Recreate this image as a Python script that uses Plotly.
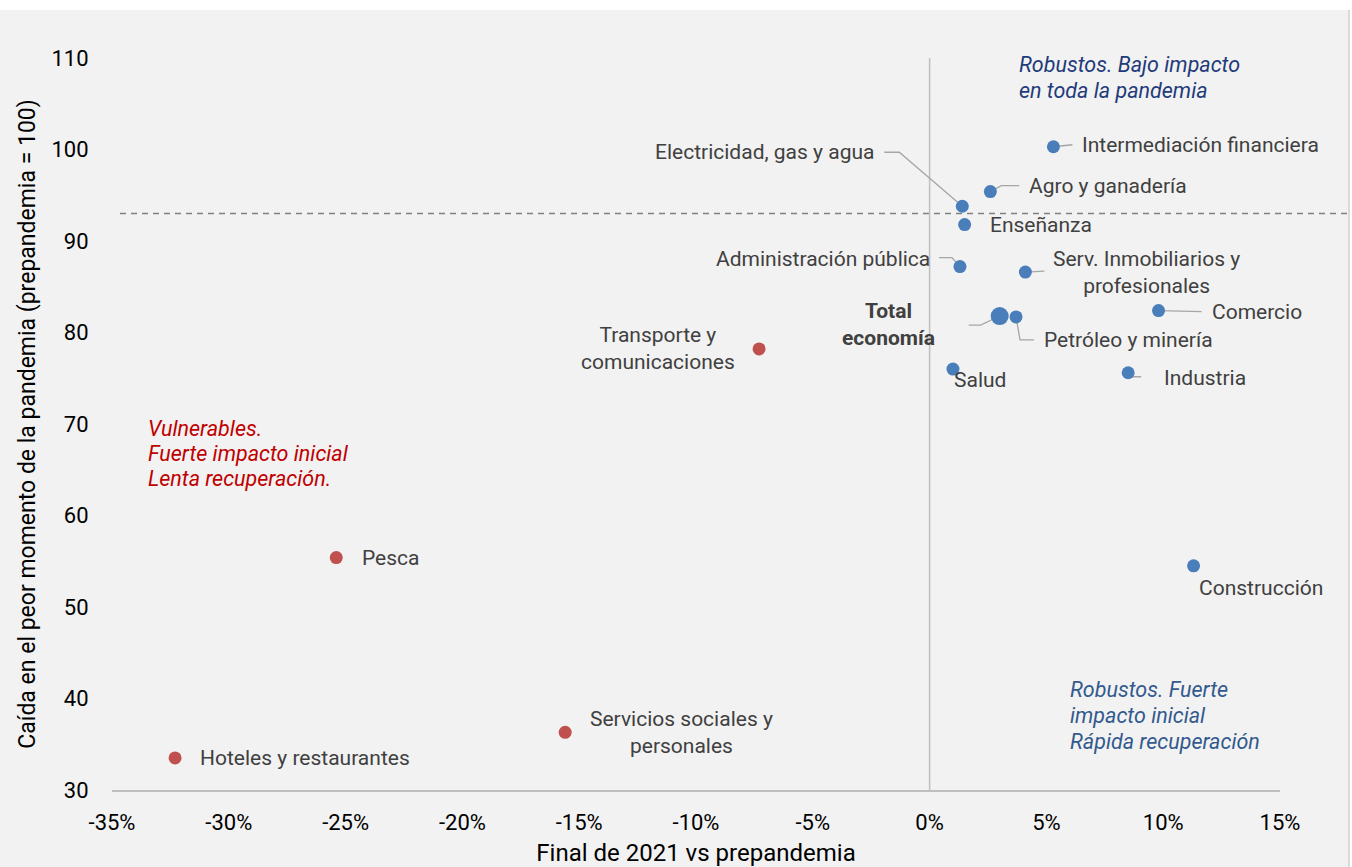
import plotly.graph_objects as go

# ---------------- data ----------------
sectors = ["Hoteles y restaurantes", "Pesca", "Servicios sociales y<br>personales",
           "Transporte y<br>comunicaciones", "Electricidad, gas y agua", "Agro y ganadería",
           "Intermediación financiera", "Enseñanza", "Administración pública",
           "Serv. Inmobiliarios y<br>profesionales", "Total<br>economía", "Petróleo y minería",
           "Comercio", "Industria", "Salud", "Construcción"]
x_change = [-32.3, -25.4, -15.6, -7.3, 1.4, 2.6, 5.3, 1.5, 1.3, 4.1, 3.0, 3.7, 9.8, 8.5, 1.0, 11.3]
y_trough = [33.5, 55.4, 36.3, 78.2, 93.8, 95.4, 100.3, 91.8, 87.2, 86.6, 81.8, 81.7, 82.4, 75.6, 76.0, 54.5]
group = ["vul", "vul", "vul", "vul", "rob", "rob", "rob", "rob", "rob", "rob", "tot", "rob",
         "rob", "rob", "rob", "rob"]
threshold = 93
x_ticks = [-35, -30, -25, -20, -15, -10, -5, 0, 5, 10, 15]
x_ticktext = ["-35%", "-30%", "-25%", "-20%", "-15%", "-10%", "-5%", "0%", "5%", "10%", "15%"]
y_ticks = [30, 40, 50, 60, 70, 80, 90, 100, 110]

quad_robust_low = ["Robustos. Bajo impacto", "en toda la pandemia"]
quad_vulnerable = ["Vulnerables.", "Fuerte impacto inicial", "Lenta recuperación."]
quad_robust_high = ["Robustos. Fuerte", "impacto inicial", "Rápida recuperación"]

# ---------------- layout constants ----------------
W, H = 1352, 867
ML, MR, MT, MB = 112, 72, 58, 77
PW, PH = W - ML - MR, H - MT - MB
XR, YR = [-35, 15], [30, 110]
pxx = PW / (XR[1] - XR[0])
pxy = PH / (YR[1] - YR[0])

RED, BLUE = "#C0504D", "#4A7EBB"
TXT = "#404040"
FONT = "Roboto"
LBL = 21
QFS = 21.5

# label placement: (dx, dy) pixel offset, xanchor, leader path in pixel offsets (y down)
label_style = {
    "Hoteles y restaurantes": (23, 0, "left", None),
    "Pesca": (24, 0, "left", None),
    "Servicios sociales y<br>personales": (116, 0, "center", None),
    "Transporte y<br>comunicaciones": (-101, 0, "center", None),
    "Electricidad, gas y agua": (-86, -54, "right", [(0, 0), (-63, -54), (-78, -54)]),
    "Agro y ganadería": (37, -6, "left", [(0, 0), (11, -6), (29, -6)]),
    "Intermediación financiera": (27, -2, "left", [(0, 0), (19, -2)]),
    "Enseñanza": (23, 0, "left", None),
    "Administración pública": (-28, -8, "right", [(-21, -9), (-8, -9), (-1, -1)]),
    "Serv. Inmobiliarios y<br>profesionales": (26, 0, "left", [(0, 0), (19, -1)]),
    "Total<br>economía": (-63, 8, "right", [(-31, 9), (-19, 9), (0, 0)]),
    "Petróleo y minería": (26, 23, "left", [(0, 0), (4, 23), (18, 23)]),
    "Comercio": (51, 1, "left", [(0, 0), (43, 1)]),
    "Industria": (34, 5, "left", [(0, 0), (2, 4), (13, 4)]),
    "Salud": (-1, 11, "left", None),
    "Construcción": (3, 22, "left", None),
}

fig = go.Figure()

# leader lines (derived from data points + pixel offsets)
lx, ly = [], []
for s, xv, yv in zip(sectors, x_change, y_trough):
    path = label_style[s][3]
    if path:
        for dx, dy in path:
            lx.append(xv + dx / pxx)
            ly.append(yv - dy / pxy)
        lx.append(None)
        ly.append(None)
fig.add_trace(go.Scatter(x=lx, y=ly, mode="lines", line=dict(color="#A6A6A6", width=1.3),
                         hoverinfo="skip", showlegend=False))

for g, col, size in [("vul", RED, 13), ("rob", BLUE, 13), ("tot", BLUE, 18)]:
    xs = [x for x, gg in zip(x_change, group) if gg == g]
    ys = [y for y, gg in zip(y_trough, group) if gg == g]
    fig.add_trace(go.Scatter(x=xs, y=ys, mode="markers",
                             marker=dict(color=col, size=size, line=dict(width=0)),
                             showlegend=False))

annotations = []
for s, xv, yv in zip(sectors, x_change, y_trough):
    dx, dy, anchor, _ = label_style[s]
    text = "<b>%s</b>" % s if s.startswith("Total") else s
    annotations.append(dict(x=xv, y=yv, xref="x", yref="y", text=text, showarrow=False,
                            xshift=dx, yshift=-dy, xanchor=anchor, yanchor="middle",
                            align="center", font=dict(family=FONT, size=LBL, color=TXT)))


def quad_block(lines, x, y, color, spacing):
    n = len(lines)
    out = []
    for i, t in enumerate(lines):
        off = (i - (n - 1) / 2) * spacing
        out.append(dict(x=x, y=y, xref="x", yref="y", showarrow=False, xanchor="left",
                        yanchor="middle", align="left", text="<i>%s</i>" % t, yshift=-off,
                        font=dict(family=FONT, size=QFS, color=color)))
    return out


annotations += quad_block(quad_robust_low, 3.75, 107.9, "#1F3B7A", 26)
annotations += quad_block(quad_vulnerable, -33.55, 66.8, "#C00000", 25)
annotations += quad_block(quad_robust_high, 5.92, 38.1, "#335A8E", 26)

shapes = [
    # grey chart-area background
    dict(type="rect", xref="paper", yref="paper", layer="below",
         x0=-ML / PW, x1=(1349 - ML) / PW, y0=-MB / PH, y1=(H - MB - 10) / PH,
         fillcolor="#F2F2F2", line=dict(width=0)),
    dict(type="line", xref="paper", yref="paper", layer="below",
         x0=(1349 - ML) / PW, x1=(1349 - ML) / PW, y0=-MB / PH, y1=(H - MB - 10) / PH,
         line=dict(color="#D0D0D0", width=1.5)),
    # vertical zero line
    dict(type="line", xref="x", yref="y", x0=0, x1=0, y0=YR[0], y1=YR[1], layer="below",
         line=dict(color="#BFBFBF", width=1.5)),
    # dashed threshold
    dict(type="line", xref="paper", yref="y", x0=8 / PW, x1=(1348 - ML) / PW,
         y0=threshold, y1=threshold, layer="below",
         line=dict(color="#808080", width=1.5, dash="6px,5px")),
]

fig.update_layout(
    width=W, height=H,
    margin=dict(l=ML, r=MR, t=MT, b=MB, autoexpand=False),
    paper_bgcolor="white", plot_bgcolor="rgba(0,0,0,0)",
    font=dict(family=FONT, color="#000000"),
    showlegend=False,
    annotations=annotations, shapes=shapes,
    xaxis=dict(range=XR, tickvals=x_ticks, ticktext=x_ticktext, showgrid=False, zeroline=False,
               showline=True, linecolor="#BFBFBF", linewidth=2,
               ticks="outside", ticklen=12, tickcolor="rgba(0,0,0,0)",
               tickfont=dict(family=FONT, size=22, color="#000000"),
               title=dict(text="Final de 2021 vs prepandemia", standoff=11,
                          font=dict(family=FONT, size=24, color="#000000"))),
    yaxis=dict(range=YR, tickvals=y_ticks, showgrid=False, zeroline=False, showline=False,
               ticks="outside", ticklen=18, tickcolor="rgba(0,0,0,0)",
               tickfont=dict(family=FONT, size=22, color="#000000"),
               title=dict(text="Caída en el peor momento de la pandemia (prepandemia = 100)",
                          standoff=9, font=dict(family=FONT, size=23, color="#000000"))),
)

fig.write_html("out.html")
